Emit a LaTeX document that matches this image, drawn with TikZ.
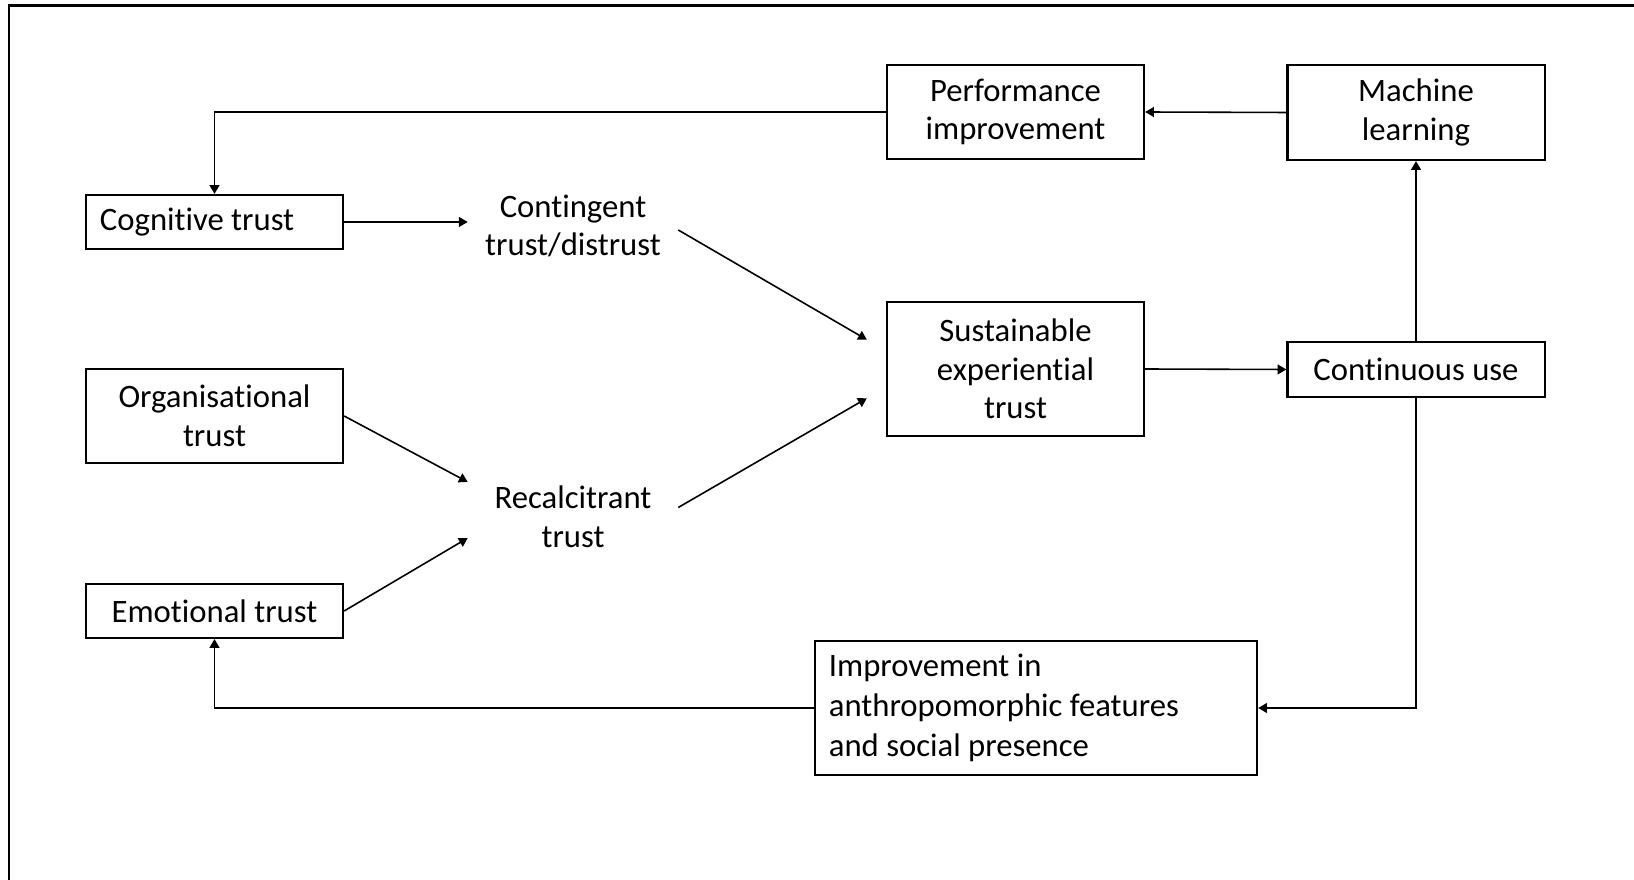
\documentclass[tikz,border=0pt]{standalone}
\usepackage{fontspec}
\setmainfont{Carlito}[Ligatures=CommonOff]
\usetikzlibrary{arrows.meta}

\begin{document}
\begin{tikzpicture}[x=0.01cm,y=-0.01cm]
\tikzstyle{every node}+=[font=\fontsize{9.3}{11}\selectfont]
\tikzstyle{box}=[draw=black,line width=0.6pt,minimum width=2.57cm,align=center,inner sep=2pt]
\tikzstyle{leftbox}=[box,align=flush left,inner xsep=0.14cm]
\tikzstyle{freetext}=[minimum width=2.09cm,align=center,inner sep=0pt]
\tikzstyle{link}=[line width=0.45pt,-{Triangle[length=2.5pt,width=2.8pt]}]
\useasboundingbox (0,0) rectangle (1634,880);
% frame
\draw [line width=0.8pt] (9,900) -- (9,5.5) -- (1650,5.5);
% boxes
\node [box,minimum height=0.94cm] (perf) at (1015.5,112) {Performance\\improvement};
\node [box,minimum height=0.95cm] (ml) at (1416,112.5) {Machine\\learning};
\node [leftbox,text width=2.29cm,minimum height=0.54cm] (cog) at (214.5,222) {Cognitive trust};
\node [freetext] (cont) at (573,226) {Contingent\\trust/distrust};
\node [box,minimum height=1.34cm] (sus) at (1015.5,369) {Sustainable\\experiential\\trust};
\node [box,minimum height=0.55cm] (contuse) at (1416,369.5) {Continuous use};
\node [box,minimum height=0.94cm] (org) at (214.5,416) {Organisational\\trust};
\node [freetext] (rec) at (573,516.5) {Recalcitrant\\trust};
\node [box,minimum height=0.54cm] (emo) at (214.5,611) {Emotional trust};
\node [leftbox,text width=4.14cm,minimum height=1.34cm,
  font=\fontsize{9.3}{11.3}\selectfont] (imp) at (1036,708)
  {Improvement in\\anthropomorphic features\\and social presence};
% links
\draw [link] (cog.east) -- (cog.east -| cont.west);
\draw [link,shorten >=0.22cm] ([yshift=-0.04cm]cont.east) -- (sus.172);
\draw [link] (org.east) -- ([yshift=0.345cm]rec.west);
\draw [link] (emo.east) -- ([yshift=-0.215cm]rec.west);
\draw [link,shorten >=0.22cm] ([yshift=0.09cm]rec.east) -- (sus.188);
\draw [link] (sus.east) -- (contuse.west);
\draw [link] (contuse.north) -- (ml.south);
\draw [link] (ml.west) -- (perf.east);
\draw [link] (perf.west) -| (cog.north);
\draw [link] (contuse.south) |- (imp.east);
\draw [link] (imp.west) -| (emo.south);
\end{tikzpicture}
\end{document}
